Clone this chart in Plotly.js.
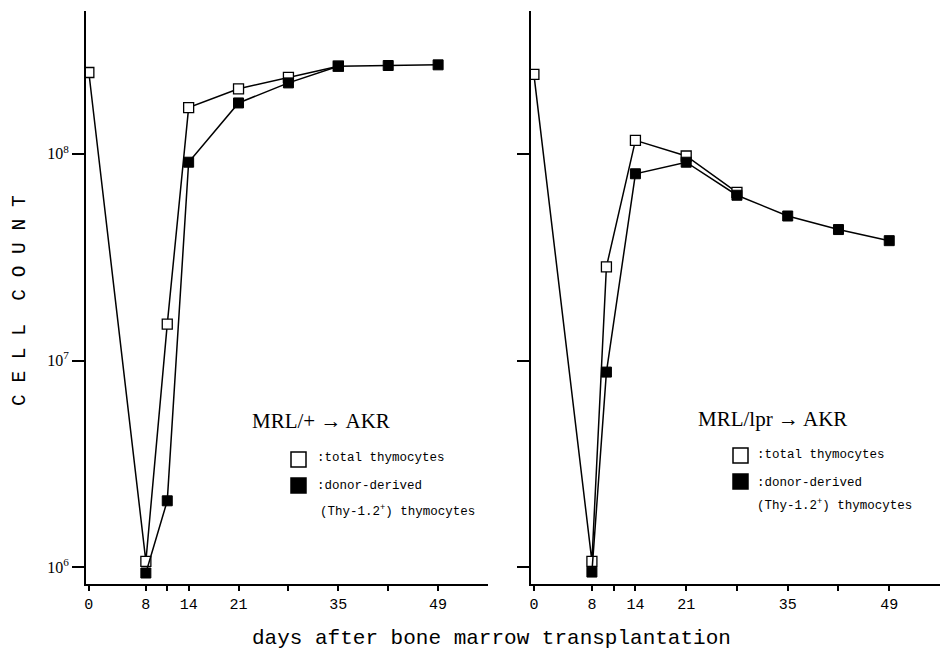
<!DOCTYPE html>
<html>
<head>
<meta charset="utf-8">
<script src="https://cdn.plot.ly/plotly-3.0.1.min.js"></script>
<style>html,body{margin:0;padding:0;background:#fff;}#chart{width:941px;height:652px;}</style>
</head>
<body>
<div id="chart"></div>
<script>
// Left panel: MRL/+ -> AKR
const leftTotalDays = [0, 8, 11, 14, 21, 28, 35];
const leftTotalCount = [2.47e8, 1.07e6, 1.5e7, 1.67e8, 2.06e8, 2.34e8, 2.65e8];
const leftDonorDays = [8, 11, 14, 21, 28, 35, 42, 49];
const leftDonorCount = [9.4e5, 2.1e6, 9.1e7, 1.76e8, 2.2e8, 2.65e8, 2.67e8, 2.69e8];

// Right panel: MRL/lpr -> AKR
const rightTotalDays = [0, 8, 10, 14, 21, 28];
const rightTotalCount = [2.42e8, 1.07e6, 2.84e7, 1.16e8, 9.75e7, 6.5e7];
const rightDonorDays = [8, 10, 14, 21, 28, 35, 42, 49];
const rightDonorCount = [9.5e5, 8.8e6, 8.0e7, 9.1e7, 6.3e7, 5.0e7, 4.3e7, 3.8e7];

const xTickVals = [0, 8, 14, 21, 35, 49];
const xTickText = ['0', '8', '14', '21', '35', '49'];
const xMinorVals = [11, 28, 42];
const yTickVals = [1e6, 1e7, 1e8];
const yTickText = ['10<sup>6</sup>', '10<sup>7</sup>', '10<sup>8</sup>'];

const lineStyle = {color: '#000', width: 1.5};
function openTrace(x, y, xa, ya) {
  return {x: x, y: y, xaxis: xa, yaxis: ya, mode: 'lines+markers', type: 'scatter',
    line: lineStyle, marker: {symbol: 'square', size: 10, color: '#fff', line: {color: '#000', width: 1.3}},
    showlegend: false, hoverinfo: 'skip'};
}
function filledTrace(x, y, xa, ya) {
  return {x: x, y: y, xaxis: xa, yaxis: ya, mode: 'lines+markers', type: 'scatter',
    line: lineStyle, marker: {symbol: 'square', size: 10, color: '#000', line: {color: '#000', width: 1}},
    showlegend: false, hoverinfo: 'skip'};
}

const data = [
  openTrace(leftTotalDays, leftTotalCount, 'x', 'y'),
  filledTrace(leftDonorDays, leftDonorCount, 'x', 'y'),
  openTrace(rightTotalDays, rightTotalCount, 'x2', 'y2'),
  filledTrace(rightDonorDays, rightDonorCount, 'x2', 'y2')
];

const W = 941, H = 652;
const px = v => v / W;
const py = v => 1 - v / H;

const serif = 'Liberation Serif, serif';
const mono = 'Liberation Mono, monospace';

const xaxisBase = {
  type: 'linear', range: [-0.4, 56], tickmode: 'array', tickvals: xTickVals, ticktext: xTickText,
  ticks: 'outside', ticklen: 5, tickwidth: 1.5, tickcolor: '#000',
  minor: {tickmode: 'array', tickvals: xMinorVals, ticks: 'outside', ticklen: 5, tickwidth: 1.5, tickcolor: '#000', showgrid: false},
  showline: true, linecolor: '#000', linewidth: 1.8, showgrid: false, zeroline: false,
  tickfont: {family: mono, size: 15, color: '#000'}, fixedrange: true
};
const yaxisBase = {
  type: 'log', range: [5.92, 8.69], tickmode: 'array', tickvals: yTickVals, ticktext: yTickText,
  ticks: 'outside', ticklen: 12, tickwidth: 1.5, tickcolor: '#000',
  showline: true, linecolor: '#000', linewidth: 1.8, showgrid: false, zeroline: false,
  tickfont: {family: serif, size: 16, color: '#000'}, fixedrange: true
};

function ann(x, y, text, size, family, xanchor) {
  return {xref: 'paper', yref: 'paper', x: px(x), y: py(y), text: text, showarrow: false,
    xanchor: xanchor || 'left', yanchor: 'middle', font: {family: family, size: size, color: '#000'}};
}

const annotations = [
  {xref: 'paper', yref: 'paper', x: px(20), y: py(301), text: 'C E L L  C O U N T', showarrow: false,
   textangle: -90, xanchor: 'center', yanchor: 'middle', font: {family: mono, size: 19.5, color: '#000'}},
  ann(491, 638, 'days after bone marrow transplantation', 21, mono, 'center'),
  ann(250, 421, 'MRL/+ \u2192 AKR', 21, serif),
  ann(315, 458, ':total thymocytes', 12.5, mono),
  ann(315, 486, ':donor-derived', 12.5, mono),
  ann(318, 511, '(Thy-1.2<sup>+</sup>) thymocytes', 12.5, mono),
  ann(696, 419, 'MRL/lpr \u2192 AKR', 21, serif),
  ann(755, 455, ':total thymocytes', 12.5, mono),
  ann(755, 483, ':donor-derived', 12.5, mono),
  ann(755, 505, '(Thy-1.2<sup>+</sup>) thymocytes', 12.5, mono)
];

function keyBox(x0, y0, filled) {
  return {type: 'rect', xref: 'paper', yref: 'paper', x0: px(x0), x1: px(x0 + 15), y0: py(y0 + 15), y1: py(y0),
    line: {color: '#000', width: 1.5}, fillcolor: filled ? '#000' : '#fff'};
}
const shapes = [
  keyBox(291, 452, false), keyBox(291, 478, true),
  keyBox(733, 448, false), keyBox(733, 474, true)
];

const layout = {
  width: W, height: H, margin: {l: 0, r: 0, t: 0, b: 0},
  paper_bgcolor: '#fff', plot_bgcolor: '#fff', showlegend: false,
  xaxis: Object.assign({}, xaxisBase, {domain: [px(86), px(488)], anchor: 'y'}),
  yaxis: Object.assign({}, yaxisBase, {domain: [py(584), py(11)], anchor: 'x'}),
  xaxis2: Object.assign({}, xaxisBase, {domain: [px(531), px(940)], anchor: 'y2'}),
  yaxis2: Object.assign({}, yaxisBase, {domain: [py(584), py(11)], anchor: 'x2', showticklabels: false}),
  annotations: annotations, shapes: shapes
};

Plotly.newPlot('chart', data, layout, {displayModeBar: false});
</script>
</body>
</html>
